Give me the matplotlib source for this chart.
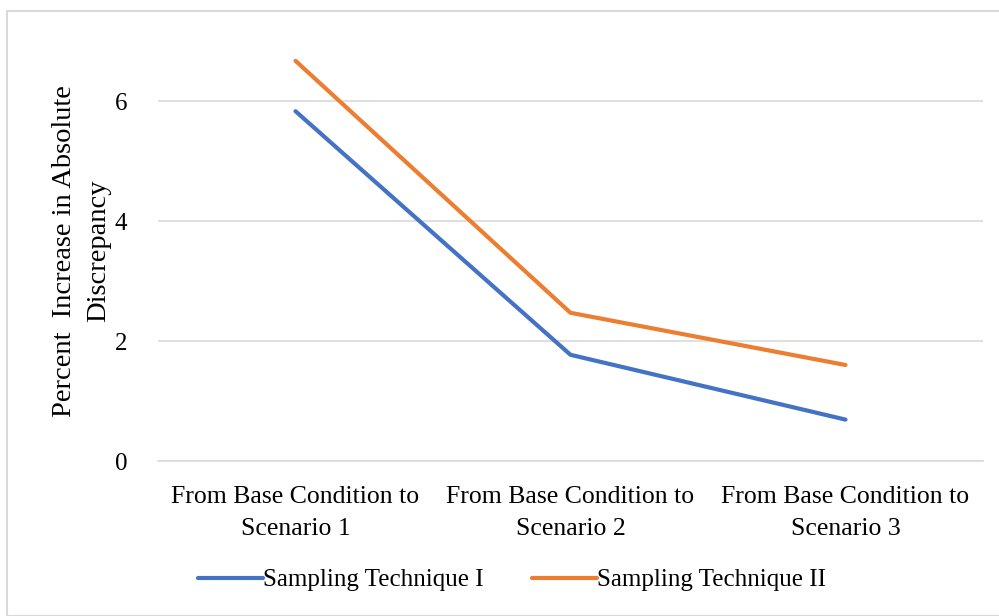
import matplotlib
matplotlib.use("Agg")
from matplotlib import pyplot as plt
from matplotlib.patches import Rectangle

# Данные
categories = ["From Base Condition to\nScenario 1",
              "From Base Condition to\nScenario 2",
              "From Base Condition to\nScenario 3"]
technique_1 = [5.83, 1.77, 0.69]
technique_2 = [6.67, 2.47, 1.60]
y_ticks = [0, 2, 4, 6]

plt.rcParams['font.family'] = ['Liberation Serif', 'DejaVu Serif']

fig = plt.figure(figsize=(9.99, 6.16), dpi=100)
ax = fig.add_axes([158 / 999, 1 - 461 / 616, 825 / 999, 420 / 616])

x = list(range(len(categories)))
ax.plot(x, technique_1, "-", c='#4472C4', linewidth=3, label="Sampling Technique I",
        solid_capstyle='round')
ax.plot(x, technique_2, "-", c='#ED7D31', linewidth=3, label="Sampling Technique II",
        solid_capstyle='round')

# Оси
ax.set_xlim(-0.5, 2.5)
ax.set_ylim(0, 7)
ax.set_yticks(y_ticks)
ax.set_xticks(x)
ax.set_xticklabels(categories, fontsize=18.5, linespacing=1.6)
ax.tick_params(axis='y', labelsize=18, length=0, pad=22)
ax.tick_params(axis='x', length=0, pad=18)
ax.grid(axis='y', color='#d9d9d9', linewidth=1.2)
ax.set_axisbelow(True)
for s in ['top', 'right', 'left']:
    ax.spines[s].set_visible(False)
ax.spines['bottom'].set_color('#d9d9d9')
ax.spines['bottom'].set_linewidth(1.2)

ax.set_ylabel("Percent  Increase in Absolute\nDiscrepancy", fontsize=20.5, linespacing=1.45,
              labelpad=3)

# Легенда
fig.legend(loc='center', bbox_to_anchor=(512 / 999, 1 - 580 / 616), ncol=2, frameon=False,
           fontsize=18, handlelength=2.6, handletextpad=0.0, columnspacing=1.9)

# Рамка
fig.patches.append(Rectangle((7 / 999, 0), 1, 1 - 11 / 616, transform=fig.transFigure,
                             fill=False, edgecolor='#d9d9d9', linewidth=1.5))

plt.savefig("out.png", dpi=100)
